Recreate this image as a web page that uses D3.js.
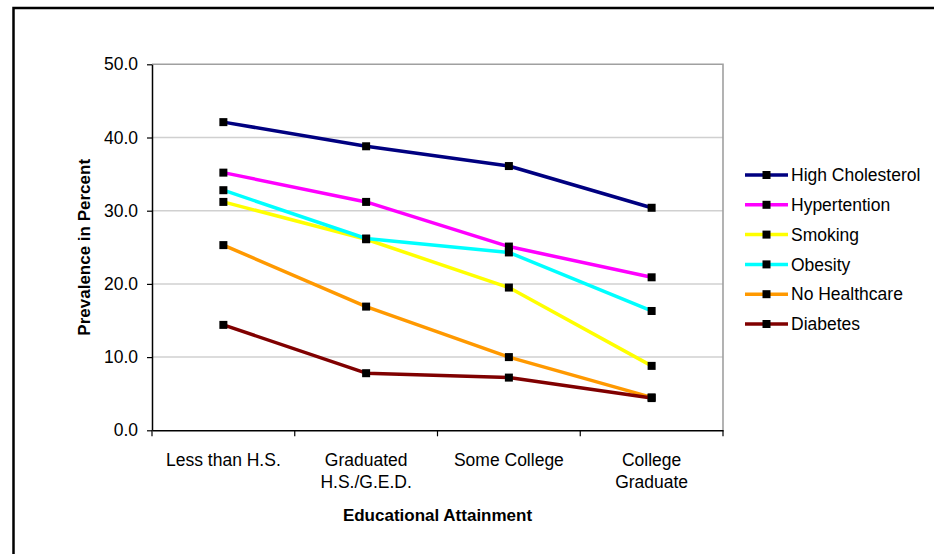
<!DOCTYPE html>
<html>
<head>
<meta charset="utf-8">
<script src="https://cdn.jsdelivr.net/npm/d3@7"></script>
<style>
  html, body { margin: 0; padding: 0; background: #fff; }
  svg { display: block; font-family: "Liberation Sans", Arial, sans-serif; }
</style>
</head>
<body>
<svg id="chart" width="934" height="554"></svg>
<script>
const categories = [["Less than H.S."], ["Graduated", "H.S./G.E.D."], ["Some College"], ["College", "Graduate"]];
const seriesNames = ["High Cholesterol", "Hypertention", "Smoking", "Obesity", "No Healthcare", "Diabetes"];
const seriesColors = ["#000080", "#ff00ff", "#ffff00", "#00ffff", "#ff9900", "#800000"];
const highCholesterol = [42.1, 38.8, 36.1, 30.4];
const hypertention = [35.2, 31.2, 25.1, 20.9];
const smoking = [31.2, 26.1, 19.5, 8.8];
const obesity = [32.8, 26.2, 24.3, 16.3];
const noHealthcare = [25.3, 16.9, 10.0, 4.5];
const diabetes = [14.4, 7.8, 7.2, 4.4];
const yTicks = [0, 10, 20, 30, 40, 50];
const yTitle = "Prevalence in Percent";
const xTitle = "Educational Attainment";

const seriesValues = [highCholesterol, hypertention, smoking, obesity, noHealthcare, diabetes];
const catKeys = categories.map(c => c.join(" "));

const svg = d3.select("#chart");
const plot = { left: 152, right: 723, top: 64.3, bottom: 430.3 };

// outer border (top & left visible)
svg.append("rect")
  .attr("x", 13.5).attr("y", 8)
  .attr("width", 940).attr("height", 560)
  .attr("fill", "none").attr("stroke", "#000").attr("stroke-width", 2.5);

const x = d3.scaleBand().domain(catKeys).range([plot.left, plot.right]);
const y = d3.scaleLinear().domain([0, 50]).range([plot.bottom, plot.top]);

// gridlines
svg.append("g").selectAll("line")
  .data(yTicks.filter(t => t > 0 && t < 50))
  .join("line")
  .attr("x1", plot.left).attr("x2", plot.right)
  .attr("y1", d => y(d)).attr("y2", d => y(d))
  .attr("stroke", "#d0d0d0").attr("stroke-width", 1.5);

// plot border top & right (gray)
svg.append("path")
  .attr("d", `M${plot.left},${y(50)}H${plot.right}V${plot.bottom}`)
  .attr("fill", "none").attr("stroke", "#a0a0a0").attr("stroke-width", 1.6);

// Y axis
const yAxis = svg.append("g")
  .attr("transform", `translate(${plot.left},0)`)
  .call(d3.axisLeft(y).tickValues(yTicks).tickFormat(d3.format(".1f")).tickSize(5).tickSizeOuter(0).tickPadding(9));
yAxis.select(".domain").attr("stroke", "#000").attr("stroke-width", 1.5);
yAxis.selectAll(".tick line").attr("stroke", "#000").attr("stroke-width", 1.2);
yAxis.selectAll(".tick text")
  .attr("font-size", "17.5px").attr("fill", "#000")
  .attr("font-family", "'Liberation Sans', Arial, sans-serif");

// X axis
const xAxis = svg.append("g")
  .attr("transform", `translate(0,${plot.bottom})`)
  .call(d3.axisBottom(x).tickSize(0).tickSizeOuter(0).tickFormat(""));
xAxis.select(".domain").attr("stroke", "#000").attr("stroke-width", 1.5);
// boundary ticks
const bounds = catKeys.map(k => x(k)).concat([plot.right]);
svg.append("g").selectAll("line").data(bounds).join("line")
  .attr("x1", d => d).attr("x2", d => d)
  .attr("y1", plot.bottom).attr("y2", plot.bottom + 6)
  .attr("stroke", "#000").attr("stroke-width", 1.2);
// labels
xAxis.selectAll(".tick").each(function(d, i) {
  const t = d3.select(this).select("text");
  t.text(null).attr("y", 0).attr("dy", null)
    .attr("font-size", "17.5px").attr("fill", "#000")
    .attr("font-family", "'Liberation Sans', Arial, sans-serif");
  categories[i].forEach((line, j) => {
    t.append("tspan").attr("x", 0).attr("y", 35.5 + j * 22.7).text(line);
  });
});

// axis titles
svg.append("text")
  .attr("transform", `translate(90,${(plot.top + plot.bottom) / 2}) rotate(-90)`)
  .attr("text-anchor", "middle")
  .attr("font-size", "17px").attr("font-weight", "bold")
  .text(yTitle);
svg.append("text")
  .attr("x", (plot.left + plot.right) / 2).attr("y", 520.7)
  .attr("text-anchor", "middle")
  .attr("font-size", "17px").attr("font-weight", "bold")
  .text(xTitle);

// series
const line = d3.line().x((d, i) => x(catKeys[i]) + x.bandwidth() / 2).y(d => y(d));
const ms = 8;
seriesValues.forEach((vals, s) => {
  const g = svg.append("g");
  g.append("path").datum(vals)
    .attr("d", line)
    .attr("fill", "none").attr("stroke", seriesColors[s])
    .attr("stroke-width", 3.5).attr("stroke-linejoin", "round");
  g.selectAll("rect").data(vals).join("rect")
    .attr("x", (d, i) => x(catKeys[i]) + x.bandwidth() / 2 - ms / 2)
    .attr("y", d => y(d) - ms / 2)
    .attr("width", ms).attr("height", ms)
    .attr("fill", "#000");
});

// legend
const legend = svg.append("g");
seriesNames.forEach((name, i) => {
  const ly = 175 + i * 29.8;
  legend.append("line")
    .attr("x1", 745).attr("x2", 788).attr("y1", ly).attr("y2", ly)
    .attr("stroke", seriesColors[i]).attr("stroke-width", 3.5);
  legend.append("rect")
    .attr("x", 766.5 - ms / 2).attr("y", ly - ms / 2)
    .attr("width", ms).attr("height", ms).attr("fill", "#000");
  legend.append("text")
    .attr("x", 791).attr("y", ly).attr("dy", "0.35em")
    .attr("font-size", "17.5px").attr("fill", "#000")
    .text(name);
});
</script>
</body>
</html>
